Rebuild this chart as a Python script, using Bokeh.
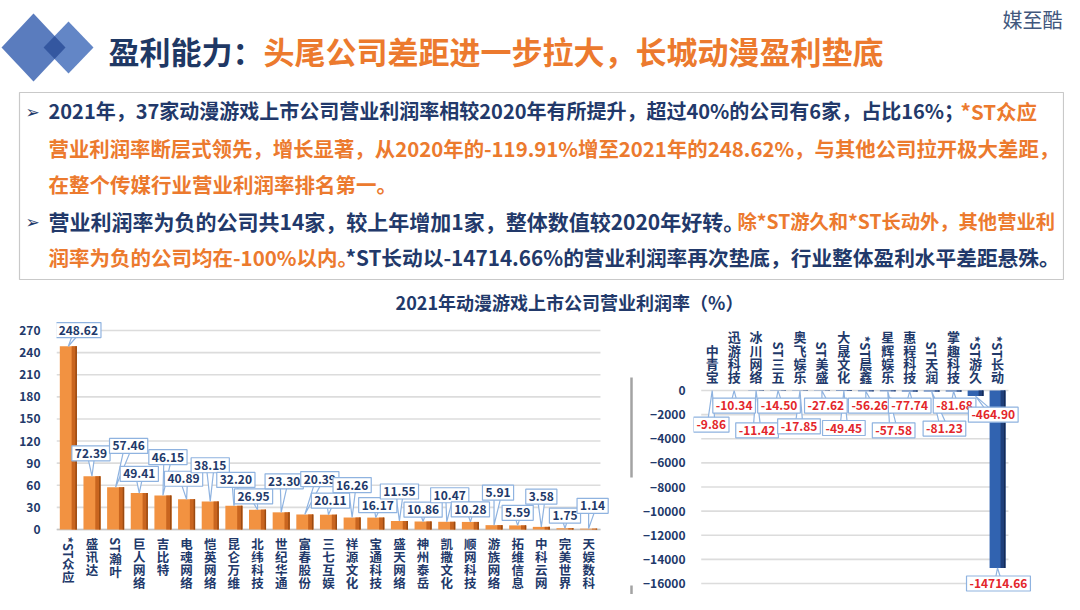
import math
from bokeh.plotting import figure
from bokeh.layouts import column, row
from bokeh.models import Range1d, FixedTicker, ColumnDataSource
from bokeh.core.properties import value
from bokeh.embed import file_html
from bokeh.resources import INLINE

# ---------------- data ----------------
pos_companies = ["*ST众应", "盛讯达", "ST瀚叶", "巨人网络", "吉比特", "电魂网络", "恺英网络",
                 "昆仑万维", "北纬科技", "世纪华通", "富春股份", "三七互娱", "祥源文化", "宝通科技",
                 "盛天网络", "神州泰岳", "凯撒文化", "顺网科技", "游族网络", "拓维信息", "中科云网",
                 "完美世界", "天娱数科"]
pos_values = [248.62, 72.39, 57.46, 49.41, 46.15, 40.89, 38.15, 32.20, 26.95, 23.30, 20.39,
              20.11, 16.26, 16.17, 11.55, 10.86, 10.47, 10.28, 5.91, 5.59, 3.58, 1.75, 1.14]
pos_ticks = [0, 30, 60, 90, 120, 150, 180, 210, 240, 270]

neg_companies = ["中青宝", "迅游科技", "冰川网络", "ST三五", "奥飞娱乐", "ST美盛", "大晟文化",
                 "*ST晨鑫", "星辉娱乐", "惠程科技", "ST天润", "掌趣科技", "*ST游久", "*ST长动"]
neg_values = [-9.86, -10.34, -11.42, -14.50, -17.85, -27.62, -49.45, -56.26, -57.58, -77.74,
              -81.23, -81.68, -464.90, -14714.66]
neg_ticks = [0, -2000, -4000, -6000, -8000, -10000, -12000, -14000, -16000]

chart_title = "2021年动漫游戏上市公司营业利润率（%）"

# ---------------- callout layout (styling) ----------------
pos_label_lift = [22, 31, 56, 26, 52, 28, 49, 35, 18, 42, 48, 19, 44, 17, 40, 16, 36, 17, 44, 17, 41, 17, 31]
pos_label_dx = [10, -1, 13, 0, 5, -3, 0, 2, -4, 3, 15, 2, 0, 2, 0, 0, 3, 0, 4, 0, 0, 0, 4]
neg_label_y = [-2830, -1250, -3300, -1250, -2970, -1250, -3110, -1250, -3300, -1250, -3160, -1250, -2000, -16000]
neg_label_dx = [-1, 0, 1, 1, -1, 4, 0, 4, 6, 0, 13, 1, 18, 1]

CJK = "Noto Sans CJK SC"
NAVY = "#22396A"
ORANGE = "#EC7A2E"
RED = "#E3262B"
GRID = "#DCDCDC"
CALLOUT = "#8FB3E0"

W = 1064
H_HEAD, H_TEXT, H_CHART = 86, 230, 278
CH_TOP = H_HEAD + H_TEXT          # page y of chart row top (316)
CH_BOT = CH_TOP + H_CHART         # 594


def pieces(name, pitch):
    if name.startswith("*ST"):
        return [("*ST", 20, True)] + [(c, pitch, False) for c in name[3:]]
    if name.startswith("ST"):
        return [("ST", 15, True)] + [(c, pitch, False) for c in name[2:]]
    return [(c, pitch, False) for c in name]


def base_fig(width, height, xr, yr, **kw):
    p = figure(width=width, height=height, x_range=xr, y_range=yr, output_backend="svg",
               toolbar_location=None, **kw)
    p.outline_line_color = None
    p.grid.visible = False
    return p


def style_yaxis(p, standoff):
    ax = p.yaxis[0]
    ax.major_tick_line_color = None
    ax.minor_tick_line_color = None
    ax.axis_line_color = None
    ax.major_label_text_font = CJK
    ax.major_label_text_font_style = "bold"
    ax.major_label_text_color = NAVY
    ax.major_label_text_font_size = "12px"
    ax.major_label_standoff = standoff


# ---------------- header ----------------
ph = base_fig(W, H_HEAD, Range1d(0, W), Range1d(H_HEAD, 0), x_axis_location=None,
              y_axis_location=None, min_border=0)
ph.patch([1, 33, 65, 33], [47, 13, 47, 81], fill_color="#5A7CBE", line_color=None)
ph.patch([43, 68, 93, 68], [47, 21, 47, 73], fill_color="#6386C6", line_color=None)
ph.patch([43, 54.1, 65, 54.1], [47, 35.4, 47, 58.6], fill_color="#3457A0", line_color=None)
ph.text(x=[108], y=[50], text=["盈利能力："], text_font=value(CJK), text_font_style="bold",
        text_font_size="31px", text_color="#1F3864", text_baseline="middle", text_align="left")
ph.text(x=[263], y=[50], text=["头尾公司差距进一步拉大，长城动漫盈利垫底"], text_font=value(CJK),
        text_font_style="bold", text_font_size="31px", text_color=ORANGE,
        text_baseline="middle", text_align="left")
ph.text(x=[1062], y=[19], text=["媒至酷"], text_font=value(CJK), text_font_size="20px",
        text_color="#41577D", text_baseline="middle", text_align="right")

# ---------------- text box ----------------
pt = base_fig(W, H_TEXT, Range1d(0, W), Range1d(CH_TOP, H_HEAD), x_axis_location=None,
              y_axis_location=None, min_border=0)
pt.quad(left=[19], right=[1063], top=[92], bottom=[279], fill_color="white",
        line_color="#C9C9C9", line_width=1.2)
pt.text(x=[25, 25], y=[111, 221], text=["➢", "➢"], text_font=value("DejaVu Sans"),
        text_font_style="bold", text_font_size="17px", text_color=NAVY, text_baseline="middle")
seg_x = [48, 960, 48, 48, 48, 737, 48, 345]
seg_y = [110, 110, 147, 183, 220, 220, 256, 256]
seg_t = ["2021年，37家动漫游戏上市公司营业利润率相较2020年有所提升，超过40%的公司有6家，占比16%；",
         "*ST众应",
         "营业利润率断层式领先，增长显著，从2020年的-119.91%增至2021年的248.62%，与其他公司拉开极大差距，",
         "在整个传媒行业营业利润率排名第一。",
         "营业利润率为负的公司共14家，较上年增加1家，整体数值较2020年好转。",
         "除*ST游久和*ST长动外，其他营业利",
         "润率为负的公司均在-100%以内。",
         "*ST长动以-14714.66%的营业利润率再次垫底，行业整体盈利水平差距悬殊。"]
seg_c = [NAVY, ORANGE, ORANGE, ORANGE, NAVY, ORANGE, ORANGE, NAVY]
seg_s = ["20px", "20.5px", "20.4px", "20.5px", "21px", "19.3px", "20.5px", "20.7px"]
for x, y, t, c, s in zip(seg_x, seg_y, seg_t, seg_c, seg_s):
    pt.text(x=[x], y=[y], text=[t], text_color=c, text_font=value(CJK), text_font_style="bold",
            text_font_size=s, text_baseline="middle", text_align="left")
pt.text(x=[569], y=[301], text=[chart_title], text_font=value(CJK), text_font_style="bold",
        text_font_size="18px", text_color=NAVY, text_baseline="middle", text_align="center")

# ---------------- left chart (positive) ----------------
n1 = len(pos_companies)
x1 = list(range(n1))
P1_W = 640
P1_FL = 56                      # frame left (px)
PITCH1 = 23.65                  # px per category
S1 = 199 / 270                  # px per unit
Z1 = 529                        # page y of zero line
xr1 = Range1d(-0.5, -0.5 + (P1_W - P1_FL) / PITCH1)
yr1 = Range1d(-(CH_BOT - Z1) / S1, (Z1 - CH_TOP) / S1)
p1 = figure(width=P1_W, height=H_CHART, x_range=xr1, y_range=yr1, output_backend="svg",
            toolbar_location=None, x_axis_location=None,
            min_border_left=P1_FL, min_border_right=0, min_border_top=0, min_border_bottom=0)
p1.outline_line_color = None
p1.grid.visible = False
p1.yaxis.ticker = FixedTicker(ticks=pos_ticks)
style_yaxis(p1, 10)

p1.segment(x0=[-0.5] * len(pos_ticks), x1=[n1 - 0.5] * len(pos_ticks), y0=pos_ticks, y1=pos_ticks,
           line_color=GRID, line_width=1.6)
p1.segment(x0=[-0.5], x1=[n1 - 0.5], y0=[0], y1=[0], line_color="#C4C4C4", line_width=1.6)

src1 = ColumnDataSource(dict(
    x=x1, top=pos_values,
    xr=[i + 0.25 for i in x1], xe=[i + 0.33 for i in x1],
    lx=[i + dx / PITCH1 for i, dx in zip(x1, pos_label_dx)],
    ly=[v + d for v, d in zip(pos_values, pos_label_lift)],
    txt=[f"{v:.2f}" for v in pos_values]))
p1.vbar(x="x", top="top", bottom=0, width=0.72, source=src1, fill_color="#F29241", line_color=None)
p1.vbar(x="xr", top="top", bottom=0, width=0.22, source=src1, fill_color="#C9651F", line_color=None)
p1.vbar(x="xe", top="top", bottom=0, width=0.06, source=src1, fill_color="#9A4A12", line_color=None)
hw1 = 4 / PITCH1
p1.patches(xs=[[lx - hw1, i, lx + hw1] for i, lx in zip(x1, src1.data["lx"])],
           ys=[[ly, v, ly] for v, ly in zip(pos_values, src1.data["ly"])],
           fill_color="white", line_color=CALLOUT, line_width=1.2)
p1.text(x="lx", y="ly", text="txt", source=src1, text_font=value(CJK), text_font_style="bold",
        text_font_size="12px", text_color=NAVY, text_align="center", text_baseline="middle",
        padding=3, background_fill_color="white", border_line_color=CALLOUT, border_line_width=1.2)

# vertical category labels (top-down from page y 537)
lab_x, lab_y, lab_t, lab_a = [], [], [], []
for i, name in enumerate(pos_companies):
    cur = 537.0
    for t, h, rot in pieces(name, 12.8):
        cy = cur + h / 2
        cur += h
        lab_x.append(i)
        lab_y.append((Z1 - cy) / S1)
        lab_t.append(t)
        lab_a.append(-math.pi / 2 if rot else 0.0)
p1.text(x=lab_x, y=lab_y, text=lab_t, angle=lab_a, text_font=value(CJK), text_font_style="bold",
        text_font_size="12.5px", text_color=NAVY, text_align="center", text_baseline="middle")

# separator mark between the two charts
sep_x = -0.5 + (631 - P1_FL) / PITCH1
p1.segment(x0=[sep_x, sep_x], x1=[sep_x, sep_x],
           y0=[(Z1 - 377) / S1, (Z1 - 585) / S1], y1=[(Z1 - 477) / S1, (Z1 - 594) / S1],
           line_color="#A3A3A3", line_width=2.5)

# ---------------- right chart (negative) ----------------
n2 = len(neg_companies)
x2 = list(range(n2))
P2_W = W - P1_W                 # 424
P2_FL = 47                      # frame left within figure (page x 687)
PITCH2 = 22.3
S2 = 193 / 16000
Z2 = 390
first_center = 706 - 640
xs2 = -(first_center - P2_FL) / PITCH2
xr2 = Range1d(xs2, xs2 + (P2_W - P2_FL) / PITCH2)
yr2 = Range1d(-(CH_BOT - Z2) / S2, (Z2 - CH_TOP) / S2)
p2 = figure(width=P2_W, height=H_CHART, x_range=xr2, y_range=yr2, output_backend="svg",
            toolbar_location=None, x_axis_location=None,
            min_border_left=P2_FL, min_border_right=0, min_border_top=0, min_border_bottom=0)
p2.outline_line_color = None
p2.grid.visible = False
p2.yaxis.ticker = FixedTicker(ticks=neg_ticks)
style_yaxis(p2, 2)

p2.segment(x0=[-0.5] * len(neg_ticks), x1=[n2 - 0.5] * len(neg_ticks), y0=neg_ticks, y1=neg_ticks,
           line_color=GRID, line_width=1.6)

src2 = ColumnDataSource(dict(
    x=x2, bottom=neg_values,
    xr=[i + 0.25 for i in x2], xe=[i + 0.33 for i in x2],
    lx=[i + dx / PITCH2 for i, dx in zip(x2, neg_label_dx)],
    ly=neg_label_y,
    txt=[f"{v:.2f}" for v in neg_values]))
p2.vbar(x="x", top=0, bottom="bottom", width=0.72, source=src2, fill_color="#3163B0", line_color=None)
p2.vbar(x="xr", top=0, bottom="bottom", width=0.22, source=src2, fill_color="#1F3F7A", line_color=None)
p2.vbar(x="xe", top=0, bottom="bottom", width=0.06, source=src2, fill_color="#142A55", line_color=None)
hw2 = 4 / PITCH2
p2.patches(xs=[[lx - hw2, i, lx + hw2] for i, lx in zip(x2, src2.data["lx"])],
           ys=[[ly, v, ly] for v, ly in zip(neg_values, neg_label_y)],
           fill_color="white", line_color=CALLOUT, line_width=1.2)
p2.text(x="lx", y="ly", text="txt", source=src2, text_font=value(CJK), text_font_style="bold",
        text_font_size="12px", text_color=RED, text_align="center", text_baseline="middle",
        padding=3, background_fill_color="white", border_line_color=CALLOUT, border_line_width=1.2)

# vertical category labels (bottom-up from page y 383)
lab_x, lab_y, lab_t, lab_a = [], [], [], []
for i, name in enumerate(neg_companies):
    cur = 383.0
    for t, h, rot in reversed(pieces(name, 13.3)):
        cy = cur - h / 2
        cur -= h
        lab_x.append(i)
        lab_y.append((Z2 - cy) / S2)
        lab_t.append(t)
        lab_a.append(-math.pi / 2 if rot else 0.0)
p2.text(x=lab_x, y=lab_y, text=lab_t, angle=lab_a, text_font=value(CJK), text_font_style="bold",
        text_font_size="13px", text_color=NAVY, text_align="center", text_baseline="middle")

layout = column(ph, pt, row(p1, p2))
open("out.html", "w").write(file_html(layout, INLINE))
